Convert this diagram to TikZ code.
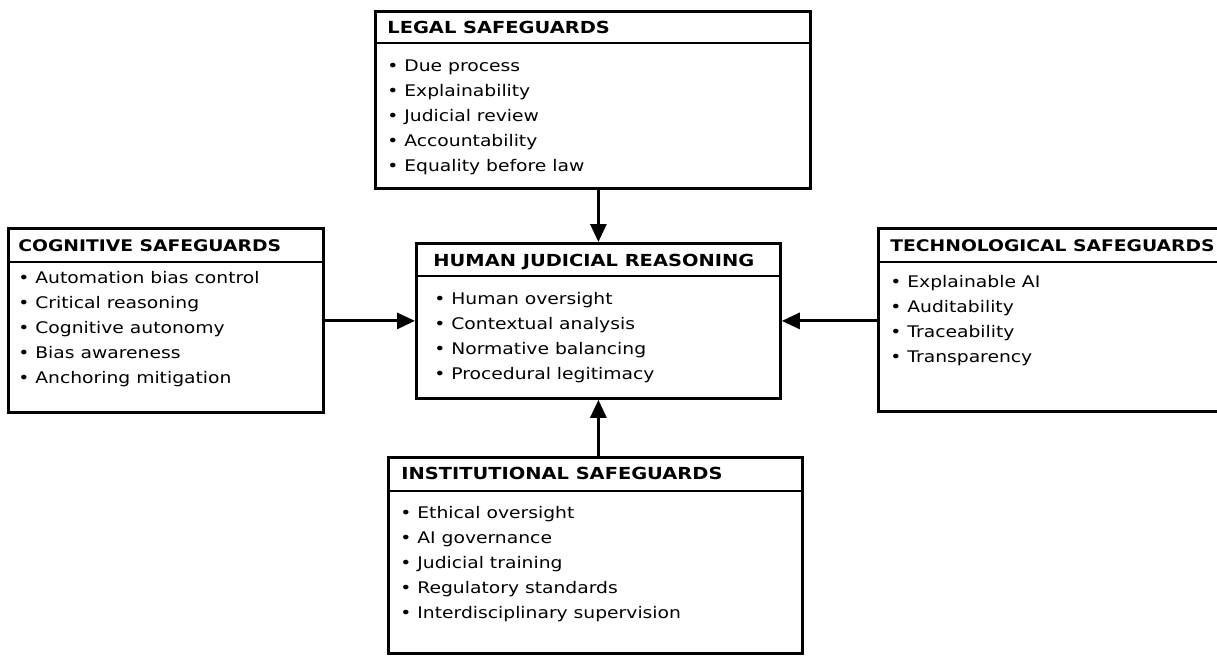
\documentclass[tikz,border=0pt]{standalone}
\usepackage{fontspec}
\newfontfamily\boxfont{DejaVu Sans}[FakeStretch=1.17]
\usetikzlibrary{arrows.meta}
\tikzset{
  sbox/.style={draw,line width=1.4pt,anchor=north west,inner sep=0pt},
  stitle/.style={anchor=base west,inner sep=0pt,font=\boxfont\bfseries\fontsize{8.3}{10}\selectfont},
  narrow/.style={font=\boxfont\bfseries\fontsize{8}{10}\selectfont},
  slist/.style={anchor=base west,inner sep=0pt,align=left,font=\boxfont\fontsize{8}{12.4}\selectfont},
  headline/.style={line width=0.7pt},
  flow/.style={line width=1.5pt,-{Triangle[length=9pt,width=8pt]}}
}
\begin{document}
\begin{tikzpicture}[x=0.5pt,y=-0.5pt,line cap=butt,line join=miter]
      \useasboundingbox (0,0) rectangle (1217,655);
      % boxes
      \node[sbox,minimum width=217.5pt,minimum height=88.5pt] (legal) at (374,10) {};
      \node[sbox,minimum width=182pt,minimum height=77.5pt] (human) at (415,242) {};
      \node[sbox,minimum width=157.5pt,minimum height=92pt] (cog) at (7,227) {};
      \node[sbox,minimum width=171.5pt,minimum height=91.5pt] (tech) at (877,227) {};
      \node[sbox,minimum width=207pt,minimum height=98pt] (inst) at (387,456) {};

      % titles
      \node[stitle] (legaltitle) at ([shift={(13,23)}]legal.north west) {LEGAL SAFEGUARDS};
      \node[stitle] (humantitle) at ([shift={(18,24)}]human.north west) {HUMAN JUDICIAL REASONING};
      \node[stitle,narrow] (cogtitle) at ([shift={(11,24)}]cog.north west) {COGNITIVE SAFEGUARDS};
      \node[stitle,narrow] (techtitle) at ([shift={(13,24)}]tech.north west) {TECHNOLOGICAL SAFEGUARDS};
      \node[stitle] (insttitle) at ([shift={(14,23)}]inst.north west) {INSTITUTIONAL SAFEGUARDS};

      \draw[headline] ([yshift=-16.5pt]legal.north west) -- ([yshift=-16.5pt]legal.north east);
      \draw[headline] ([yshift=-17pt]human.north west) -- ([yshift=-17pt]human.north east);
      \draw[headline] ([yshift=-17.5pt]cog.north west) -- ([yshift=-17.5pt]cog.north east);
      \draw[headline] ([yshift=-17.5pt]tech.north west) -- ([yshift=-17.5pt]tech.north east);
      \draw[headline] ([yshift=-17.5pt]inst.north west) -- ([yshift=-17.5pt]inst.north east);

      % items (base = last line)
      \node[slist] (legallist) at ([shift={(13,161)}]legal.north west)
            {• Due process\\• Explainability\\• Judicial review\\• Accountability\\• Equality before law};
      \node[slist] (humanlist) at ([shift={(19,137)}]human.north west)
            {• Human oversight\\• Contextual analysis\\• Normative balancing\\• Procedural legitimacy};
      \node[slist] (coglist) at ([shift={(11,156)}]cog.north west)
            {• Automation bias control\\• Critical reasoning\\• Cognitive autonomy\\• Bias awareness\\• Anchoring mitigation};
      \node[slist] (techlist) at ([shift={(13,135)}]tech.north west)
            {• Explainable AI\\• Auditability\\• Traceability\\• Transparency};
      \node[slist] (instlist) at ([shift={(13,162)}]inst.north west)
            {• Ethical oversight\\• AI governance\\• Judicial training\\• Regulatory standards\\• Interdisciplinary supervision};

      % connectors
      \draw[flow] (human.north |- legal.south) -- (human.north);
      \draw[flow] (cog.east |- human.west) -- (human.west);
      \draw[flow] (tech.west |- human.east) -- (human.east);
      \draw[flow] (human.south |- inst.north) -- (human.south);
\end{tikzpicture}
\end{document}
